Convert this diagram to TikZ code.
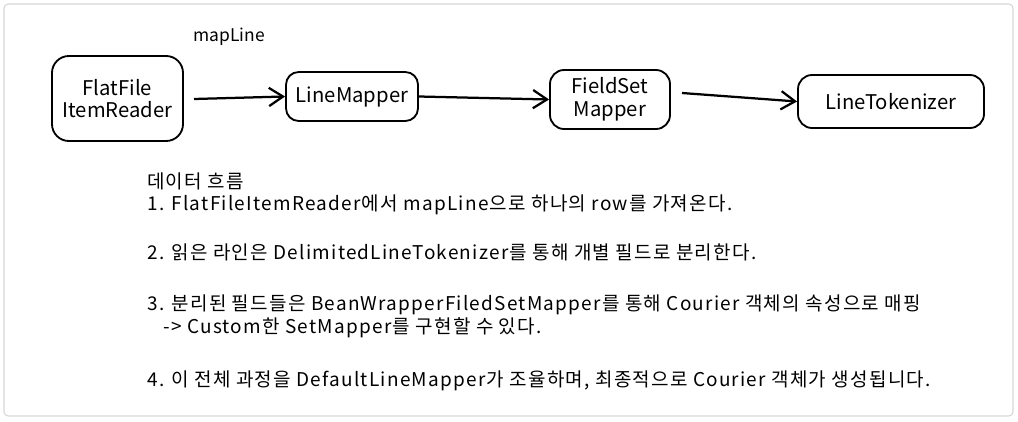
\documentclass[tikz,border=0pt]{standalone}
\usepackage{fontspec}
\setmainfont{Noto Sans CJK KR}
\newfontfamily\notefont{Noto Sans CJK KR}[LetterSpace=6.5]
\usetikzlibrary{arrows.meta,positioning}
\definecolor{frameGray}{RGB}{215,215,215}
\tikzset{
  >={Straight Barb[length=10pt,width=13pt]},
  box/.style={draw,line width=1.3pt,rounded corners=12pt,align=center,font=\fontsize{14.4}{16}\selectfont,inner sep=2pt},
  line/.style={draw,->,line width=1.6pt},
  note/.style={anchor=west,inner sep=0,font=\notefont\fontsize{13.5}{15}\selectfont},
}
\begin{document}
\begin{tikzpicture}[x=0.025cm,y=-0.025cm]
  \useasboundingbox (0,0) rectangle (1018,421);
  \draw [frameGray,line width=0.8pt,rounded corners=3pt] (4,4) rectangle (1013,416);
  % pipeline
  \node (reader) [box,minimum width=131*0.025cm,minimum height=85*0.025cm] at (117.5,98.5) {FlatFile\\ItemReader};
  \node (mapper) [box,minimum width=132*0.025cm,minimum height=49*0.025cm,rounded corners=9pt] at (352,96.5) {LineMapper};
  \node (fieldset) [box,minimum width=120*0.025cm,minimum height=59*0.025cm,rounded corners=10pt] at (610,99.5) {FieldSet\\Mapper};
  \node (tokenizer) [box,minimum width=186*0.025cm,minimum height=53*0.025cm,rounded corners=10pt] at (891,101.5) {LineTokenizer};
  \node (mapline) [font=\fontsize{12.4}{14}\selectfont] at (229,37) {mapLine};
  \coordinate (r0) at (194,99);
  \coordinate (f0) at (682,93);
  \path [line] (r0) -- (mapper.west);
  \path [line] (mapper.east) -- (fieldset.west);
  \path [line] (f0) -- (tokenizer.west);
  % notes
  \node (n0) [note] at (147,181) {데이터 흐름};
  \node (n1) [note] at (147,205) {1. FlatFileItemReader에서 mapLine으로 하나의 row를 가져온다.};
  \node (n2) [note] at (147,252) {2. 읽은 라인은 DelimitedLineTokenizer를 통해 개별 필드로 분리한다.};
  \node (n3) [note] at (147,305) {3. 분리된 필드들은 BeanWrapperFiledSetMapper를 통해 Courier 객체의 속성으로 매핑};
  \node (n3b) [note] at (163,328) {-> Custom한 SetMapper를 구현할 수 있다.};
  \node (n4) [note] at (147,381) {4. 이 전체 과정을 DefaultLineMapper가 조율하며, 최종적으로 Courier 객체가 생성됩니다.};
\end{tikzpicture}
\end{document}
